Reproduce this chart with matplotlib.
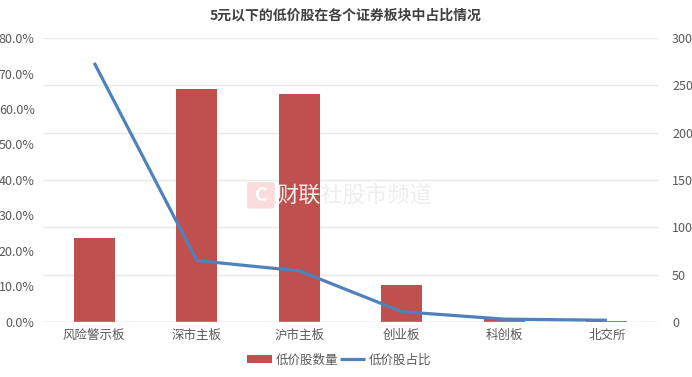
import matplotlib
matplotlib.use("Agg")
import matplotlib.pyplot as plt
from matplotlib.ticker import FuncFormatter
from matplotlib.patches import FancyBboxPatch

plt.rcParams['font.family'] = ['Noto Sans CJK SC', 'DejaVu Sans']

# data
boards = ["风险警示板", "深市主板", "沪市主板", "创业板", "科创板", "北交所"]
low_count = [89, 246, 241, 39, 4, 1]            # 低价股数量 (right axis)
low_ratio = [73.0, 17.3, 14.4, 2.9, 0.8, 0.5]    # 低价股占比, % (left axis)

bar_color = "#C0504D"
line_color = "#4F81BD"
text_color = "#595959"
grid_color = "#E9E9E9"

fig = plt.figure(figsize=(6.92, 3.77), dpi=100)
ax = fig.add_axes([0.0621, 0.1459, 0.889, 0.7533])
ax2 = ax.twinx()

x = range(len(boards))

# bars on the count axis, drawn underneath
ax2.bar(x, low_count, width=0.4, color=bar_color, label="低价股数量", zorder=2)
ax2.set_ylim(0, 300)
ax2.set_yticks(range(0, 301, 50))
ax2.yaxis.grid(True, color=grid_color, linewidth=1)
ax2.set_axisbelow(True)

# line on the percentage axis, drawn on top
ax.set_zorder(ax2.get_zorder() + 1)
ax.patch.set_visible(False)
ax.plot(x, low_ratio, color=line_color, linewidth=2.3, label="低价股占比",
        solid_capstyle="butt", zorder=3)
ax.set_ylim(0, 80)
ax.set_yticks(range(0, 81, 10))
ax.yaxis.set_major_formatter(FuncFormatter(lambda v, p: "%.1f%%" % v))
ax.set_xlim(-0.5, len(boards) - 0.5)
ax.set_xticks(list(x))
ax.set_xticklabels(boards)

for a in (ax, ax2):
    for s in a.spines.values():
        s.set_visible(False)
    a.tick_params(length=0, labelsize=9, colors=text_color)
ax.tick_params(axis="y", pad=6)
ax2.tick_params(axis="y", pad=10)
ax.tick_params(axis="x", pad=5)
ax.axhline(0, color="#D9D9D9", linewidth=1, zorder=1)

fig.text(0.5, 0.958, "5元以下的低价股在各个证券板块中占比情况", ha="center", va="center",
         fontsize=10, fontweight="bold", color="#404040")

# watermark
fig.patches.append(FancyBboxPatch((0.362, 0.452), 0.03, 0.06, boxstyle="round,pad=0.005",
                                  transform=fig.transFigure, facecolor="#FADCDC",
                                  edgecolor="none", zorder=0))
fig.text(0.377, 0.482, "C", ha="center", va="center", fontsize=14, fontweight="bold",
         color="white", zorder=1)
fig.text(0.399, 0.482, "财联社股市频道", ha="left", va="center", fontsize=16,
         color="#EEEEEE", zorder=1)

h1, l1 = ax2.get_legend_handles_labels()
h2, l2 = ax.get_legend_handles_labels()
fig.legend(h1 + h2, l1 + l2, loc="center", bbox_to_anchor=(0.49, 0.045), ncol=2,
           frameon=False, fontsize=9, labelcolor=text_color, handlelength=2.0,
           handleheight=0.6, columnspacing=0.1, handletextpad=0.3)

fig.savefig("out.png", dpi=100)
